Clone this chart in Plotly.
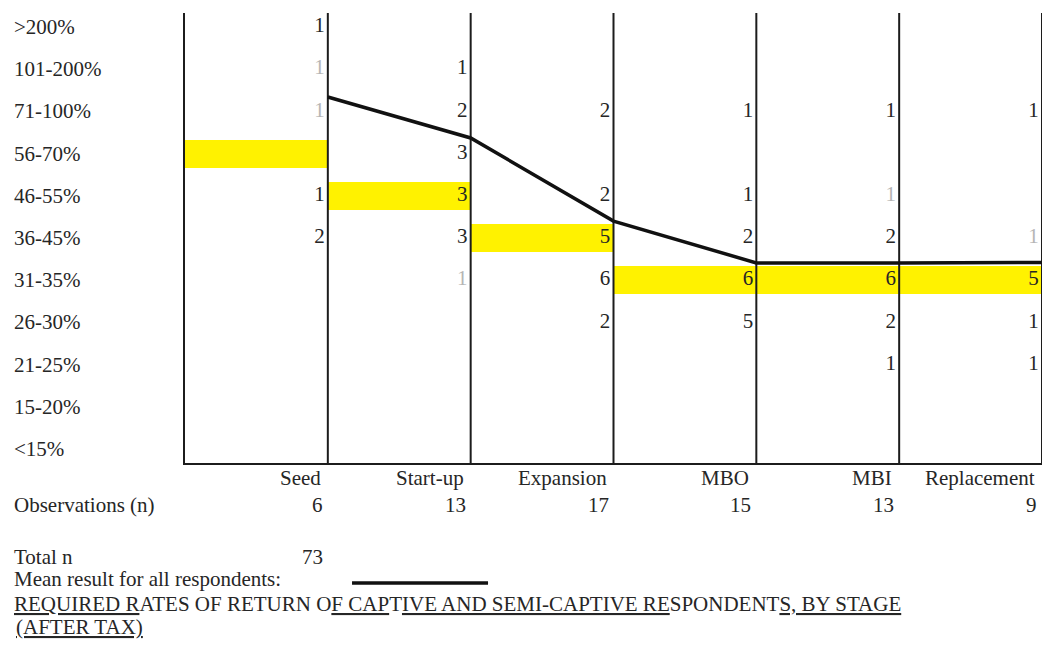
import plotly.graph_objects as go

# Investment stages (columns) and number of observations in each
stages = ["Seed", "Start-up", "Expansion", "MBO", "MBI", "Replacement"]
observations = [6, 13, 17, 15, 13, 9]
total_n = 73

# Required-return bands, bottom to top
rate_bands = ["<15%", "15-20%", "21-25%", "26-30%", "31-35%", "36-45%",
              "46-55%", "56-70%", "71-100%", "101-200%", ">200%"]

# Respondent counts per band (same order as rate_bands); None = empty cell
seed_counts        = [None, None, None, None, None, 2, 1, None, 1, 1, 1]
startup_counts     = [None, None, None, None, 1, 3, 3, 3, 2, 1, None]
expansion_counts   = [None, None, None, 2, 6, 5, 2, None, 2, None, None]
mbo_counts         = [None, None, None, 5, 6, 2, 1, None, 1, None, None]
mbi_counts         = [None, None, 1, 2, 6, 2, 1, None, 1, None, None]
replacement_counts = [None, None, 1, 1, 5, 1, None, None, 1, None, None]

# Median band for each stage (highlighted)
median_band = ["56-70%", "46-55%", "36-45%", "31-35%", "31-35%", "31-35%"]

# Mean result for all respondents, on the band scale (band index units)
mean_result = [8.34, 7.37, 5.40, 4.41, 4.41, 4.42]

# Cells printed faintly
faint_cells = {("Seed", "101-200%"), ("Seed", "71-100%"), ("Start-up", "31-35%"),
               ("MBI", "46-55%"), ("Replacement", "36-45%")}

all_counts = [seed_counts, startup_counts, expansion_counts,
              mbo_counts, mbi_counts, replacement_counts]

FONT = "Liberation Serif"
INK = "#262626"
FS = 21
Y_RANGE = [-0.33, 10.33]
X_RANGE = [0, 6]
COUNT_GAP = 0.022  # keeps count digits just clear of the divider line

fig = go.Figure()

# Median highlight bars spanning each stage column
fig.add_trace(go.Bar(
    orientation="h",
    y=[rate_bands.index(b) for b in median_band],
    x=[1] * len(stages),
    base=list(range(len(stages))),
    width=0.66,
    marker=dict(color="#FFF200", line=dict(width=0)),
    hoverinfo="skip",
    showlegend=False,
))

# Column divider lines at the right edge of each stage
vx, vy = [], []
for i in range(1, len(stages) + 1):
    vx += [i, i, None]
    vy += [Y_RANGE[0], Y_RANGE[1], None]
fig.add_trace(go.Scatter(
    x=vx, y=vy, mode="lines",
    line=dict(color="#1c1c1c", width=2),
    cliponaxis=False, hoverinfo="skip", showlegend=False,
))

# Count labels inside each column
for dark in (True, False):
    tx, ty, tt = [], [], []
    for si, (stage, cnts) in enumerate(zip(stages, all_counts)):
        for bi, c in enumerate(cnts):
            if c is None:
                continue
            is_faint = (stage, rate_bands[bi]) in faint_cells
            if is_faint == dark:
                continue
            tx.append(si + 1 - COUNT_GAP)
            ty.append(bi)
            tt.append(str(c))
    fig.add_trace(go.Scatter(
        x=tx, y=ty, text=tt, mode="text", textposition="middle left",
        textfont=dict(family=FONT, size=FS, color=INK if dark else "#b5b5b5"),
        cliponaxis=False, hoverinfo="skip", showlegend=False,
    ))

# Mean result line
fig.add_trace(go.Scatter(
    x=list(range(1, len(stages) + 1)), y=mean_result, mode="lines",
    line=dict(color="#111111", width=3.5),
    cliponaxis=False, hoverinfo="skip", showlegend=False,
))

annotations = []
LEFT_X = -0.2019

# Band labels on the left
for bi, band in enumerate(rate_bands):
    annotations.append(dict(
        x=LEFT_X, xref="paper", y=bi, yref="y", text=band,
        xanchor="left", yanchor="middle", showarrow=False,
        font=dict(family=FONT, size=FS, color=INK),
    ))

# Stage names and observation counts under each column
for si, (stage, n) in enumerate(zip(stages, observations)):
    annotations.append(dict(
        x=si + 1, xref="x", y=-0.0333, yref="paper", text=stage,
        xanchor="right", yanchor="middle", xshift=-5, showarrow=False,
        font=dict(family=FONT, size=FS, color=INK),
    ))
    annotations.append(dict(
        x=si + 1, xref="x", y=-0.0933, yref="paper", text=str(n),
        xanchor="right", yanchor="middle", xshift=-3, showarrow=False,
        font=dict(family=FONT, size=FS, color=INK),
    ))

footer = [
    ("Observations (n)", LEFT_X, -0.0933, "left"),
    ("Total n", LEFT_X, -0.2089, "left"),
    (str(total_n), 0.1634, -0.2089, "right"),
    ("Mean result for all respondents:", LEFT_X, -0.2578, "left"),
    ("<u>REQUIRED R</u>ATES OF RETURN O<u>F CAP</u>T<u>IVE AND SEMI-CAPTIVE RE</u>SPONDENT<u>S, BY STAGE</u>",
     LEFT_X, -0.3133, "left"),
    ("<u>(AFTER TAX)</u>", LEFT_X + 0.002, -0.3644, "left"),
]
for text, x, y, anchor in footer:
    annotations.append(dict(
        x=x, xref="paper", y=y, yref="paper", text=text,
        xanchor=anchor, yanchor="middle", showarrow=False,
        font=dict(family=FONT, size=FS, color=INK),
    ))

# Legend swatch for the mean line
shapes = [dict(
    type="line", xref="paper", yref="paper",
    x0=0.1949, x1=0.3536, y0=-0.2667, y1=-0.2667,
    line=dict(color="#111111", width=3.5),
)]

fig.update_layout(
    width=1044, height=653,
    margin=dict(l=185, r=2, t=13, b=190),
    paper_bgcolor="white", plot_bgcolor="white",
    showlegend=False,
    bargap=0,
    xaxis=dict(range=X_RANGE, showgrid=False, zeroline=False,
               showticklabels=False, ticks="", showline=True,
               linecolor="#1c1c1c", linewidth=2, fixedrange=True),
    yaxis=dict(range=Y_RANGE, showgrid=False, zeroline=False,
               showticklabels=False, ticks="", showline=True,
               linecolor="#1c1c1c", linewidth=2, fixedrange=True),
    annotations=annotations,
    shapes=shapes,
)

fig.write_html("out.html")
